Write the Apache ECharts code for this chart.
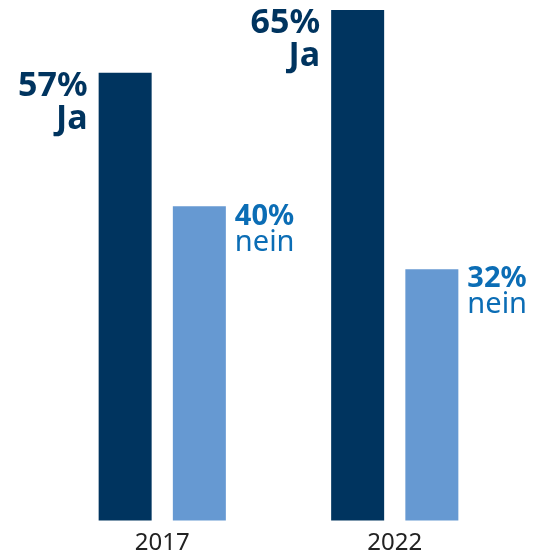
<!DOCTYPE html>
<html>
<head>
<meta charset="utf-8">
<style>html,body{margin:0;padding:0;background:#fff}#c{width:536px;height:557px}</style>
<script src="https://cdn.jsdelivr.net/npm/echarts@6/dist/echarts.min.js"></script>
</head>
<body>
<div id="c"></div>
<script>
const categories = ['2017', '2022'];
const jaValues = [57, 65];
const neinValues = [40, 32];
const jaName = 'Ja';
const neinName = 'nein';

const FONT = 'Noto Sans';
const chart = echarts.init(document.getElementById('c'), null, {renderer: 'canvas'});
chart.setOption({
  animation: false,
  grid: {left: 46, right: 25, top: 10, bottom: 36.5},
  xAxis: {
    type: 'category',
    data: categories,
    axisLine: {show: false},
    axisTick: {show: false},
    axisLabel: {color: '#222', fontFamily: FONT, fontSize: 24, margin: 11}
  },
  yAxis: {type: 'value', min: 0, max: 65, show: false, splitLine: {show: false}},
  series: [
    {
      type: 'bar',
      name: jaName,
      data: jaValues,
      barWidth: 53,
      barGap: '40%',
      itemStyle: {color: '#00345f'},
      label: {
        show: true,
        position: [-11, -3],
        align: 'right',
        verticalAlign: 'top',
        formatter: p => '{v|' + p.value + '%}\n{n|' + jaName + '}',
        rich: {
          v: {fontFamily: FONT, fontSize: 34, fontWeight: 'bold', color: '#00345f', lineHeight: 33, align: 'right'},
          n: {fontFamily: FONT, fontSize: 34, fontWeight: 'bold', color: '#00345f', lineHeight: 33, align: 'right'}
        }
      }
    },
    {
      type: 'bar',
      name: neinName,
      data: neinValues,
      barWidth: 53,
      itemStyle: {color: '#6699d2'},
      label: {
        show: true,
        position: ['100%', -3],
        distance: 0,
        offset: [9, 0],
        align: 'left',
        verticalAlign: 'top',
        formatter: p => '{v|' + p.value + '%}\n{n|' + neinName + '}',
        rich: {
          v: {fontFamily: FONT, fontSize: 29, fontWeight: 'bold', color: '#0b6db5', lineHeight: 26},
          n: {fontFamily: FONT, fontSize: 29, fontWeight: 'normal', color: '#0b6db5', lineHeight: 26}
        }
      }
    }
  ]
});
</script>
</body>
</html>
